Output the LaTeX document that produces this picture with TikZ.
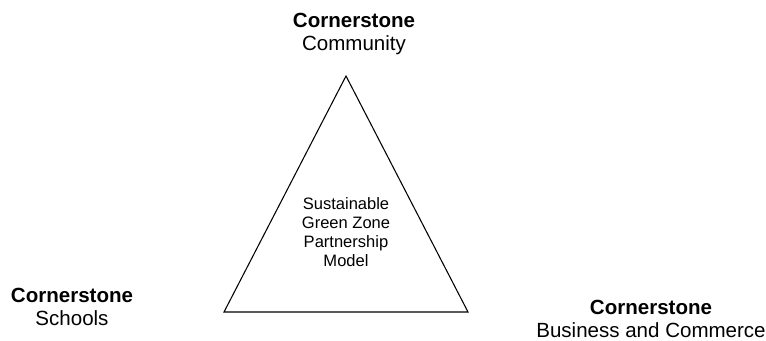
\documentclass[tikz,border=0pt]{standalone}
\usepackage{fontspec}
\setmainfont{Liberation Sans}
\usepackage{tikz}
\usetikzlibrary{positioning}

\begin{document}
\begin{tikzpicture}[x=0.75pt,y=-0.75pt,line width=0.8pt,
                    corner/.style={align=center,inner sep=0pt,
                      font=\fontsize{15.4}{17.3}\selectfont},
                    model/.style={align=center,inner sep=0pt,
                      font=\fontsize{12.4}{14.3}\selectfont}]
  \useasboundingbox (0,0) rectangle (766,340);

  \coordinate (top)   at (346,76);
  \coordinate (left)  at (224,312);
  \coordinate (right) at (468,312);

  \node[corner] (community) at (354,34)  {\textbf{Cornerstone}\\Community};
  \node[corner] (schools)   at (72,307)  {\textbf{Cornerstone}\\Schools};
  \node[corner] (business)  at (651,319) {\textbf{Cornerstone}\\Business and Commerce};
  \node[model]  (center)    at (346,232) {Sustainable\\Green Zone\\Partnership\\Model};

  \draw (top) -- (right) -- (left) -- cycle;

\end{tikzpicture}
\end{document}
